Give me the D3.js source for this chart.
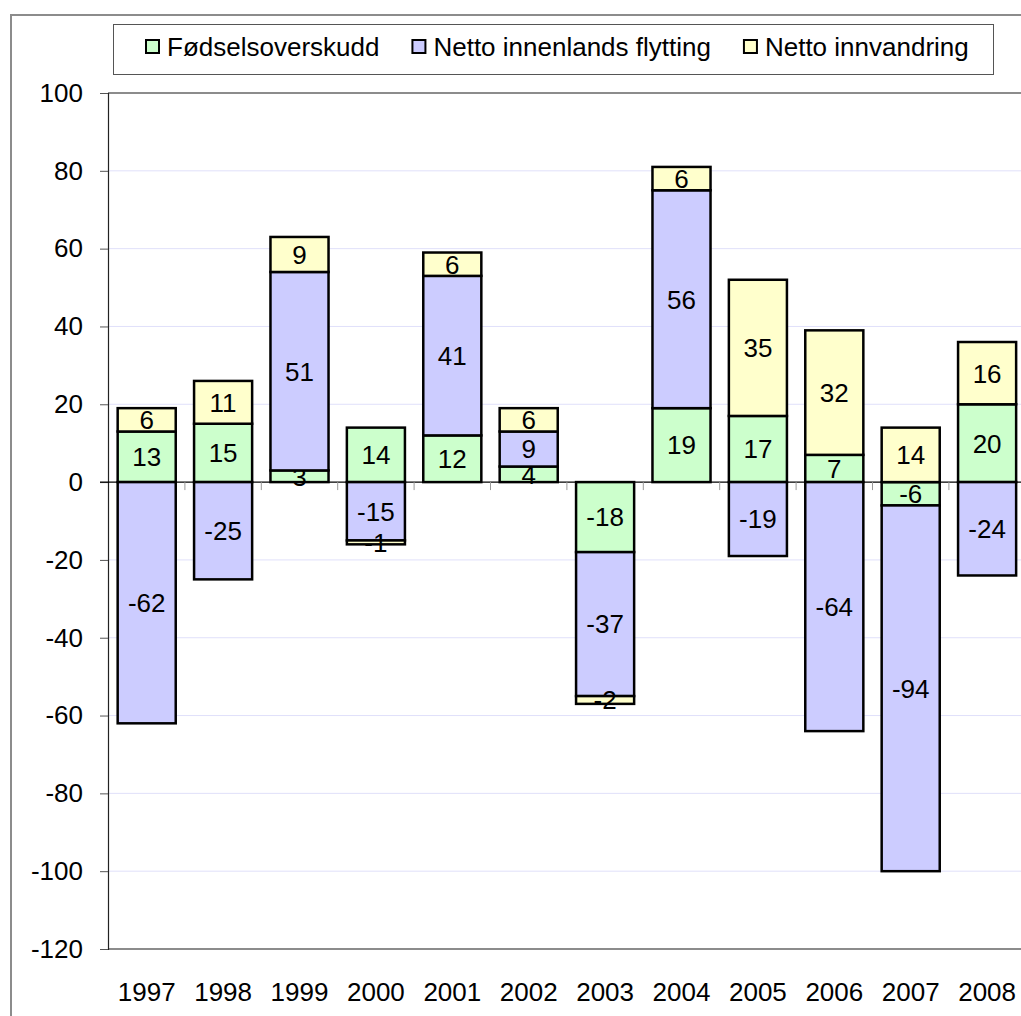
<!DOCTYPE html>
<html>
<head>
<meta charset="utf-8">
<script src="https://cdn.jsdelivr.net/npm/d3@7"></script>
<style>
  body { margin: 0; background: #fff; }
  svg { display: block; }
</style>
</head>
<body>
<div class="chart-div"></div>
<script>
var width = 1021;
var height = 1016;

// data
var years = ["1997", "1998", "1999", "2000", "2001", "2002", "2003", "2004", "2005", "2006", "2007", "2008"];
var series_names = ["Fødselsoverskudd", "Netto innenlands flytting", "Netto innvandring"];
var fodsel = [13, 15, 3, 14, 12, 4, -18, 19, 17, 7, -6, 20];
var innenlands = [-62, -25, 51, -15, 41, 9, -37, 56, -19, -64, -94, -24];
var innvandring = [6, 11, 9, -1, 6, 6, -2, 6, 35, 32, 14, 16];
var y_ticks = [100, 80, 60, 40, 20, 0, -20, -40, -60, -80, -100, -120];
var colors = ["#ccffcc", "#ccccff", "#ffffcc"];

var font = "Arial, Liberation Sans, sans-serif";

var svg = d3.select("div.chart-div")
    .append("svg")
    .attr("width", width)
    .attr("height", height)

// outer chart frame (runs off to the right/bottom)
svg.append("rect")
    .attr("x", 11)
    .attr("y", 15)
    .attr("width", 1100)
    .attr("height", 1100)
    .attr("fill", "none")
    .attr("stroke", "#8c8c8c")
    .attr("stroke-width", 2)

var rows = years.map(function (y, i) {
    return { year: y, f: fodsel[i], n: innenlands[i], v: innvandring[i] };
});

var stack = d3.stack()
    .keys(["f", "n", "v"])
    .offset(d3.stackOffsetDiverging);
var stacked = stack(rows);

var x = d3.scaleBand()
    .domain(years)
    .range([108.5, 108.5 + 76.4 * 12])
    .paddingInner(0.24)
    .paddingOuter(0.12);

var y = d3.scaleLinear()
    .domain([-120, 100])
    .range([949, 93]);

var plot = svg.append("g")

// gridlines
plot.selectAll("line.grid")
    .data(y_ticks.filter(function (d) { return d != 0 && d != 100 && d != -120; }))
    .enter()
    .append("line")
    .attr("class", "grid")
    .attr("x1", 108)
    .attr("x2", 1030)
    .attr("y1", function (d) { return y(d); })
    .attr("y2", function (d) { return y(d); })
    .attr("stroke", "#e0e0fa")
    .attr("stroke-width", 1)

// plot area top and bottom border
plot.append("line")
    .attr("x1", 108).attr("x2", 1030)
    .attr("y1", y(100)).attr("y2", y(100))
    .attr("stroke", "#8c8c8c").attr("stroke-width", 2)
plot.append("line")
    .attr("x1", 108).attr("x2", 1030)
    .attr("y1", y(-120)).attr("y2", y(-120))
    .attr("stroke", "#8c8c8c").attr("stroke-width", 2)

// y axis
var yAxis = d3.axisLeft(y)
    .tickValues(y_ticks)
    .tickFormat(function (d) { return String(d); })
    .tickSize(8)
    .tickPadding(17);

var yg = plot.append("g")
    .attr("transform", "translate(108,0)")
    .call(yAxis)
yg.select(".domain").attr("stroke", "#222").attr("stroke-width", 1.2)
yg.selectAll(".tick line").attr("stroke", "#555")
yg.selectAll(".tick text")
    .attr("font-family", font)
    .attr("font-size", 26)
    .attr("fill", "#000")

// zero line + category ticks
plot.append("line")
    .attr("x1", 100).attr("x2", 1030)
    .attr("y1", y(0)).attr("y2", y(0))
    .attr("stroke", "#000").attr("stroke-width", 1.2)

var bounds = years.map(function (d) { return x(d) - x.step() * x.paddingOuter(); });
plot.selectAll("line.ctick")
    .data(bounds.slice(1))
    .enter()
    .append("line")
    .attr("x1", function (d) { return d; })
    .attr("x2", function (d) { return d; })
    .attr("y1", y(0))
    .attr("y2", y(0) + 8)
    .attr("stroke", "#999")
    .attr("stroke-width", 1)

// bars
var layers = plot.selectAll("g.layer")
    .data(stacked)
    .enter()
    .append("g")
    .attr("class", "layer")
    .attr("fill", function (d, i) { return colors[i]; })

layers.selectAll("rect")
    .data(function (d) { return d; })
    .enter()
    .append("rect")
    .attr("x", function (d) { return x(d.data.year); })
    .attr("width", x.bandwidth())
    .attr("y", function (d) { return y(Math.max(d[0], d[1])); })
    .attr("height", function (d) { return Math.abs(y(d[0]) - y(d[1])); })
    .attr("stroke", "#000")
    .attr("stroke-width", 2.5)

// value labels
layers.selectAll("text")
    .data(function (d) {
        var key = d.key;
        return d.map(function (e) { return { seg: e, val: e.data[key] }; });
    })
    .enter()
    .append("text")
    .attr("x", function (d) { return x(d.seg.data.year) + x.bandwidth() / 2; })
    .attr("y", function (d) { return y((d.seg[0] + d.seg[1]) / 2); })
    .attr("dy", "0.36em")
    .text(function (d) { return String(d.val); })
    .attr("font-family", font)
    .attr("font-size", 26)
    .attr("text-anchor", "middle")
    .style("fill", "#000")

// year labels
plot.selectAll("text.year")
    .data(years)
    .enter()
    .append("text")
    .attr("class", "year")
    .attr("x", function (d) { return x(d) + x.bandwidth() / 2; })
    .attr("y", 1001)
    .text(function (d) { return d; })
    .attr("font-family", font)
    .attr("font-size", 26)
    .attr("text-anchor", "middle")
    .style("fill", "#000")

// legend
var legend = svg.append("g")
legend.append("rect")
    .attr("x", 113.5)
    .attr("y", 24.5)
    .attr("width", 880)
    .attr("height", 50)
    .attr("fill", "#fff")
    .attr("stroke", "#555")
    .attr("stroke-width", 1)

var lx = 146;
for (var k = 0; k < series_names.length; k++) {
    legend.append("rect")
        .attr("x", lx)
        .attr("y", 40)
        .attr("width", 13)
        .attr("height", 13)
        .attr("fill", colors[k])
        .attr("stroke", "#000")
        .attr("stroke-width", 2)
    var t = legend.append("text")
        .attr("x", lx + 21)
        .attr("y", 56)
        .text(series_names[k])
        .attr("font-family", font)
        .attr("font-size", 26)
        .style("fill", "#000")
    lx = lx + 21 + t.node().getComputedTextLength() + 33;
}
</script>
</body>
</html>
